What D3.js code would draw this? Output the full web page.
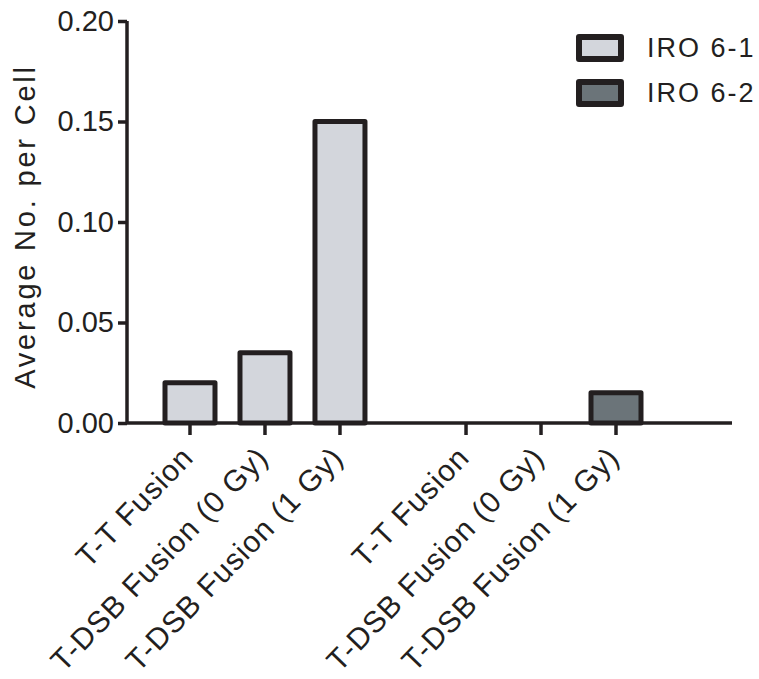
<!DOCTYPE html>
<html>
<head>
  <title>Average No. per Cell</title>
  <script src="https://d3js.org/d3.v7.min.js"></script>
  <style>
    body { margin: 0; background: #fff; }
    text { font-family: "Liberation Sans", Arial, Helvetica, sans-serif; fill: #231f20; }
  </style>
</head>
<body>
  <div id="chart"></div>

  <script>
    // data
    const groups = ["IRO 6-1", "IRO 6-2"];
    const categories = ["T-T Fusion", "T-DSB Fusion (0 Gy)", "T-DSB Fusion (1 Gy)"];
    const iro61 = [0.02, 0.035, 0.15];
    const iro62 = [0, 0, 0.015];
    const yTicks = [0, 0.05, 0.10, 0.15, 0.20];

    const seriesValues = [iro61, iro62];
    const fills = ["#d3d6dc", "#6b7479"];
    const ink = "#231f20";

    const width = 759, height = 679;
    const plotLeft = 127, plotTop = 21, plotBottom = 423, axisEnd = 732;

    const svg = d3.select("#chart")
      .append("svg")
      .attr("width", width)
      .attr("height", height);

    const y = d3.scaleLinear().domain([0, 0.2]).range([plotBottom, plotTop]);

    const xGroup = d3.scaleBand()
      .domain(groups)
      .range([plotLeft, 679])
      .paddingInner(0.185)
      .paddingOuter(0.0924);

    const xCat = d3.scaleBand()
      .domain(categories)
      .range([0, xGroup.bandwidth()]);

    const rows = [];
    groups.forEach((g, gi) => {
      categories.forEach((c, ci) => {
        rows.push({group: g, cat: c, value: seriesValues[gi][ci], gi: gi,
                   cx: xGroup(g) + xCat(c) + xCat.bandwidth() / 2});
      });
    });

    const barW = 50;

    // bars
    svg.append("g").selectAll("rect")
      .data(rows.filter(d => d.value > 0))
      .join("rect")
      .attr("x", d => d.cx - barW / 2)
      .attr("y", d => y(d.value))
      .attr("width", barW)
      .attr("height", d => y(0) - y(d.value))
      .attr("fill", d => fills[d.gi])
      .attr("stroke", ink)
      .attr("stroke-width", 5)
      .attr("stroke-linejoin", "round");

    // y axis
    const yAxis = svg.append("g")
      .attr("transform", `translate(${plotLeft},0)`)
      .call(d3.axisLeft(y).tickValues(yTicks).tickFormat(d3.format(".2f")).tickSize(9).tickPadding(4));
    yAxis.select(".domain").attr("stroke", ink).attr("stroke-width", 3.5).attr("d", `M0,${plotTop}V${plotBottom}`);
    yAxis.selectAll(".tick line").attr("stroke", ink).attr("stroke-width", 3.5);
    yAxis.selectAll(".tick text").attr("font-size", 29).attr("fill", ink)
      .attr("font-family", "'Liberation Sans', Arial, sans-serif");

    // x axis
    svg.append("line")
      .attr("x1", plotLeft).attr("x2", axisEnd)
      .attr("y1", plotBottom).attr("y2", plotBottom)
      .attr("stroke", ink).attr("stroke-width", 3.5);

    const xt = svg.append("g").selectAll("g")
      .data(rows)
      .join("g")
      .attr("transform", d => `translate(${d.cx},${plotBottom})`);
    xt.append("line")
      .attr("y1", 0).attr("y2", 12)
      .attr("stroke", ink).attr("stroke-width", 3.5);
    xt.append("text")
      .attr("transform", "translate(5,36) rotate(-46)")
      .attr("text-anchor", "end")
      .attr("font-size", 30)
      .attr("letter-spacing", "1px")
      .text(d => d.cat);

    // y title
    svg.append("text")
      .attr("transform", `translate(35,${(65 + 388) / 2}) rotate(-90)`)
      .attr("text-anchor", "middle")
      .attr("font-size", 29)
      .attr("letter-spacing", "2.8px")
      .text("Average No. per Cell");

    // legend
    const legend = svg.append("g").selectAll("g")
      .data(groups)
      .join("g")
      .attr("transform", (d, i) => `translate(600,${48 + i * 45})`);
    legend.append("rect")
      .attr("x", -21).attr("y", -11)
      .attr("width", 42).attr("height", 22)
      .attr("fill", (d, i) => fills[i])
      .attr("stroke", ink)
      .attr("stroke-width", 6)
      .attr("stroke-linejoin", "round");
    legend.append("text")
      .attr("x", 47)
      .attr("dy", "0.35em")
      .attr("font-size", 27)
      .attr("letter-spacing", "2px")
      .text(d => d);
  </script>
</body>
</html>
